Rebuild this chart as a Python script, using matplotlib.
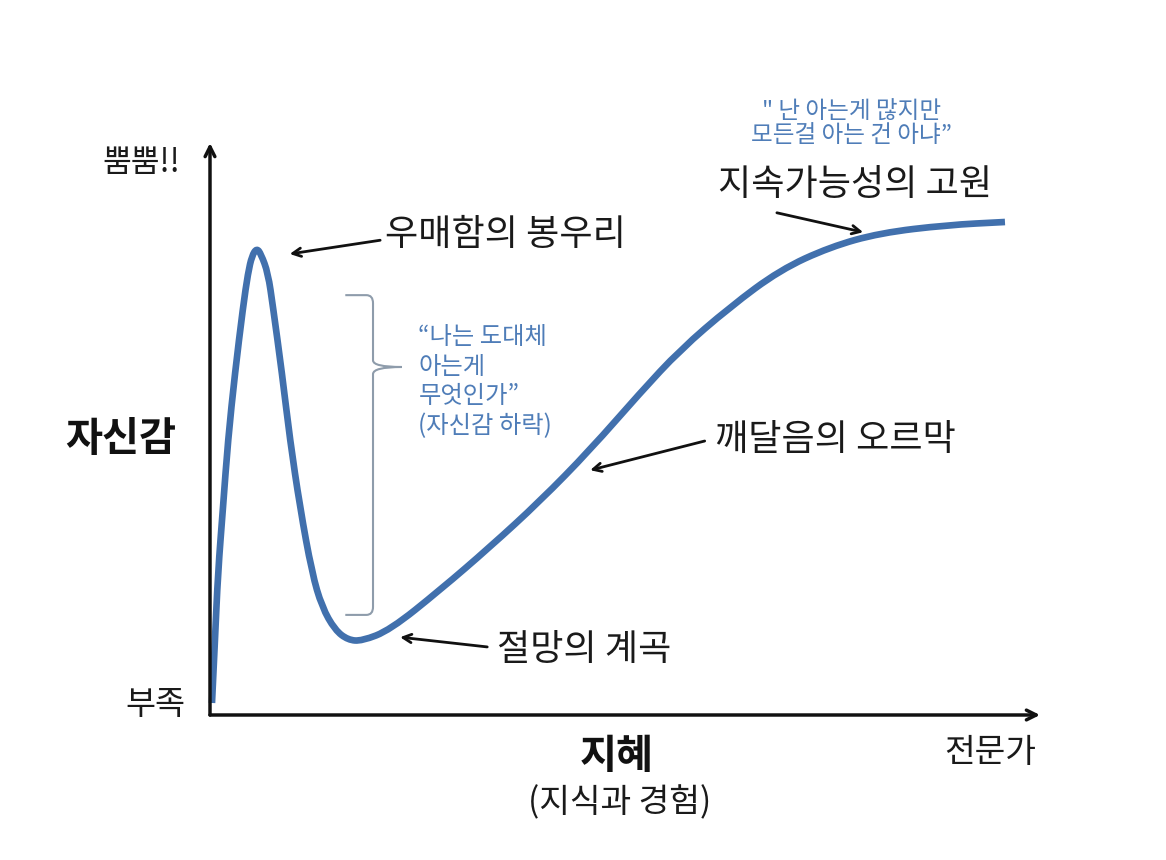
import matplotlib
matplotlib.use("Agg")
import matplotlib.pyplot as plt
from matplotlib.path import Path
from matplotlib.patches import PathPatch

plt.rcParams['font.family'] = ['Noto Sans CJK KR', 'DejaVu Sans']

# curve: knowledge (x) vs confidence (y), 0..100
knowledge = [0.24, 0.60, 0.96, 1.57, 2.17, 3.01, 3.98, 4.58, 5.06, 5.63,
             6.14, 6.99, 7.59, 8.67, 9.64, 10.84, 12.29, 13.49, 15.06, 16.63,
             18.31, 21.69, 27.71, 33.73, 39.76, 45.78, 51.81, 56.63, 62.65,
             68.67, 74.70, 80.72, 88.80, 95.78]
confidence = [2.10, 13.11, 24.83, 36.36, 48.08, 59.79, 71.33, 77.27, 80.3, 81.6,
              80.6, 77.27, 71.33, 59.79, 48.08, 36.36, 24.83, 18.88, 14.86, 13.11,
              12.94, 14.86, 21.85, 29.37, 37.40, 46.33, 56.29, 63.81, 71.33,
              77.80, 81.82, 84.27, 85.66, 86.19]

# stage labels: text, label position, arrow tail, arrow tip
stage_labels = ['우매함의 봉우리', '지속가능성의 고원', '깨달음의 오르막', '절망의 계곡']
label_xy = [(21.1, 84.0), (61.2, 92.7), (60.8, 48.1), (34.6, 11.4)]
arrow_tail = [(20.5, 83.0), (68.3, 87.8), (59.6, 47.9), (33.4, 11.9)]
arrow_head = [(9.6, 80.6), (78.7, 84.4), (45.8, 42.8), (22.9, 13.6)]

# confidence drop brace (y range) at x
brace_x = 19.64
brace_top = 73.4
brace_bot = 17.5

line_blue = '#4170ad'
text_blue = '#4f7db8'

fig = plt.figure(figsize=(11.66, 8.6), dpi=100)
ax = fig.add_axes([210/1166, 145/860, 830/1166, 572/860])
ax.set_xlim(0, 100)
ax.set_ylim(0, 100)
ax.axis('off')

# axes arrows
arrow_kw = dict(arrowstyle='->, head_length=0.7, head_width=0.35', lw=2.5, color='#111111',
                shrinkA=0, shrinkB=0)
ax.annotate('', xy=(0, 100), xytext=(0, 0), arrowprops=arrow_kw, annotation_clip=False)
ax.annotate('', xy=(100, 0), xytext=(0, 0), arrowprops=arrow_kw, annotation_clip=False)

# smooth curve: quadratic bezier through the midpoints of the read points
pts = list(zip(knowledge, confidence))
verts = [pts[0]]
codes = [Path.MOVETO]
for i in range(1, len(pts) - 1):
    mid = ((pts[i][0] + pts[i + 1][0]) / 2, (pts[i][1] + pts[i + 1][1]) / 2)
    verts += [pts[i], mid]
    codes += [Path.CURVE3, Path.CURVE3]
verts.append(pts[-1])
codes.append(Path.LINETO)
ax.add_patch(PathPatch(Path(verts, codes), fill=False, edgecolor=line_blue, lw=4.8,
                       capstyle='butt', joinstyle='round', clip_on=False))

for txt, pos, tail, head in zip(stage_labels, label_xy, arrow_tail, arrow_head):
    ax.text(pos[0], pos[1], txt, fontsize=26, ha='left', va='center', color='#1a1a1a')
    ax.annotate('', xy=head, xytext=tail,
                arrowprops=dict(arrowstyle='->, head_length=0.6, head_width=0.3',
                                lw=2, color='#111111', shrinkA=0, shrinkB=0),
                annotation_clip=False)

# brace
c = 1.4
bverts = [(16.3, brace_top), (brace_x - 0.8, brace_top), (brace_x, brace_top), (brace_x, brace_top - c),
          (brace_x, 62.0), (brace_x, 60.84), (23.1, 60.84),
          (brace_x, 60.84), (brace_x, 59.6),
          (brace_x, brace_bot + c), (brace_x, brace_bot), (brace_x - 0.8, brace_bot),
          (16.3, brace_bot)]
bcodes = [Path.MOVETO, Path.LINETO, Path.CURVE3, Path.CURVE3,
          Path.LINETO, Path.CURVE3, Path.CURVE3,
          Path.CURVE3, Path.CURVE3,
          Path.LINETO, Path.CURVE3, Path.CURVE3,
          Path.LINETO]
ax.add_patch(PathPatch(Path(bverts, bcodes), fill=False, edgecolor='#8e9cab', lw=1.5, clip_on=False))

ax.text(25.1, 58.3, '“나는 도대체\n아는게\n무엇인가”\n(자신감 하락)', fontsize=17.5,
        color=text_blue, ha='left', va='center', linespacing=1.18)
ax.text(77.3, 103.4, '" 난 아는게 많지만\n모든걸 아는 건 아냐”', fontsize=17,
        color=text_blue, ha='center', va='center', linespacing=1.1, clip_on=False)

# axis labels
ax.text(-3.6, 96.5, '뿜뿜!!', fontsize=22.5, ha='right', va='center', color='#1a1a1a')
ax.text(-3.0, 1.8, '부족', fontsize=23.5, ha='right', va='center', color='#1a1a1a')
ax.text(-10.7, 48.1, '자신감', fontsize=29, fontweight='bold', ha='center', va='center',
        color='#111111')
ax.text(49.0, -7.3, '지혜', fontsize=29, fontweight='bold', ha='center', va='center',
        color='#111111')
ax.text(49.4, -15.4, '(지식과 경험)', fontsize=24, ha='center', va='center', color='#1a1a1a')
ax.text(94.0, -6.5, '전문가', fontsize=24, ha='center', va='center', color='#1a1a1a')

fig.savefig('out.png', dpi=100, facecolor='white')
